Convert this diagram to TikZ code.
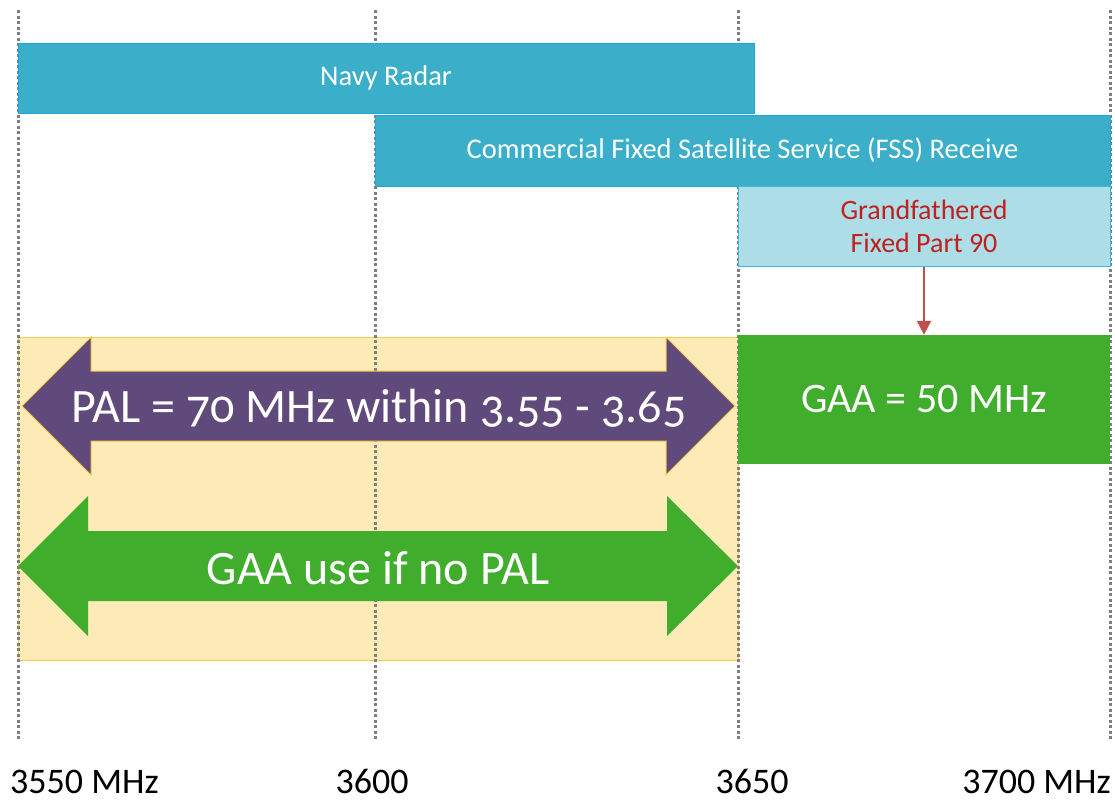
\documentclass[tikz,border=0pt]{standalone}
\usepackage{fontspec}
\setmainfont{Carlito}
\newfontfamily\arrowfont[Numbers=OldStyle]{Carlito}
\usetikzlibrary{arrows.meta}
\definecolor{bandBlue}{HTML}{3BAFCA}
\definecolor{bandEdge}{HTML}{1EA7DC}
\definecolor{oldBlue}{HTML}{ADDDE7}
\definecolor{oldEdge}{HTML}{3DB8E8}
\definecolor{oldText}{HTML}{C0201E}
\definecolor{linkRed}{HTML}{C0504D}
\definecolor{gaaGreen}{HTML}{40AE2C}
\definecolor{palYellow}{HTML}{FCEBB6}
\definecolor{palEdge}{HTML}{F6CC4C}
\definecolor{palPurple}{HTML}{604A7B}
\definecolor{tickGray}{HTML}{7F7F7F}
\tikzset{
    objBand/.style={rectangle, draw=bandEdge, fill=bandBlue, text=white, line width=1pt, inner sep=0pt, font=\fontsize{28.5}{32}\selectfont},
    objOldBand/.style={rectangle, draw=oldEdge, fill=oldBlue, text=oldText, line width=1pt, inner sep=0pt, align=center, font=\fontsize{28}{33}\selectfont},
    objGaaBox/.style={rectangle, fill=gaaGreen, text=white, inner sep=0pt, font=\fontsize{42}{46}\selectfont},
    objZone/.style={rectangle, draw=palEdge, fill=palYellow, line width=1pt, inner sep=0pt},
    objArrowText/.style={text=white, inner sep=0pt, font=\arrowfont\fontsize{48}{52}\selectfont},
    freqLabel/.style={inner sep=0pt, font=\fontsize{36}{40}\selectfont},
    tickLine/.style={tickGray, line width=3pt, dash pattern=on 3pt off 2.5pt},
    arrow/.style={linkRed, line width=2pt, -{Triangle[width=14pt, length=14pt]}}
}

\begin{document}
\begin{tikzpicture}[x=1pt, y=-1pt]
  \useasboundingbox (0,0) rectangle (1115,801);

  \node (zone) [objZone, minimum width=720pt, minimum height=323pt] at (378,498.5) {};

  \foreach \x in {18,375,738,1110}
    \draw[tickLine] (\x,10) -- (\x,740);

  \node (navy) [objBand, minimum width=736pt, minimum height=70pt] at (386,78) {Navy Radar};
  \node (fss) [objBand, minimum width=735pt, minimum height=71pt] at (742.5,150.5) {Commercial Fixed Satellite Service (FSS) Receive};
  \node (grand) [objOldBand, minimum width=372pt, minimum height=80pt] at (924,226) {Grandfathered\\Fixed Part 90};
  \node (gaa) [objGaaBox, minimum width=372pt, minimum height=129pt] at (924,399.5) {GAA = 50 MHz};

  \draw[arrow] (grand) -- (gaa);

  % double arrows over the PAL zone
  \fill[palPurple, draw=palEdge, line width=1pt] (22,406) -- (91,337) -- (91,371) -- (666,371) -- (666,337)
    -- (735,406) -- (666,475) -- (666,441) -- (91,441) -- (91,475) -- cycle;
  \node (pal) [objArrowText] at (379,408) {PAL = 70 MHz within 3.55 - 3.65};

  \fill[gaaGreen] (18,566) -- (88,496) -- (88,531) -- (667,531) -- (667,496)
    -- (738,566) -- (667,636) -- (667,601) -- (88,601) -- (88,636) -- cycle;
  \node (gaause) [objArrowText] at (378,568) {GAA use if no PAL};

  \node (f3550) [freqLabel, anchor=base west] at (10,793) {3550 MHz};
  \node (f3600) [freqLabel, anchor=base] at (372,793) {3600};
  \node (f3650) [freqLabel, anchor=base] at (752,793) {3650};
  \node (f3700) [freqLabel, anchor=base east] at (1111,793) {3700 MHz};
\end{tikzpicture}
\end{document}
